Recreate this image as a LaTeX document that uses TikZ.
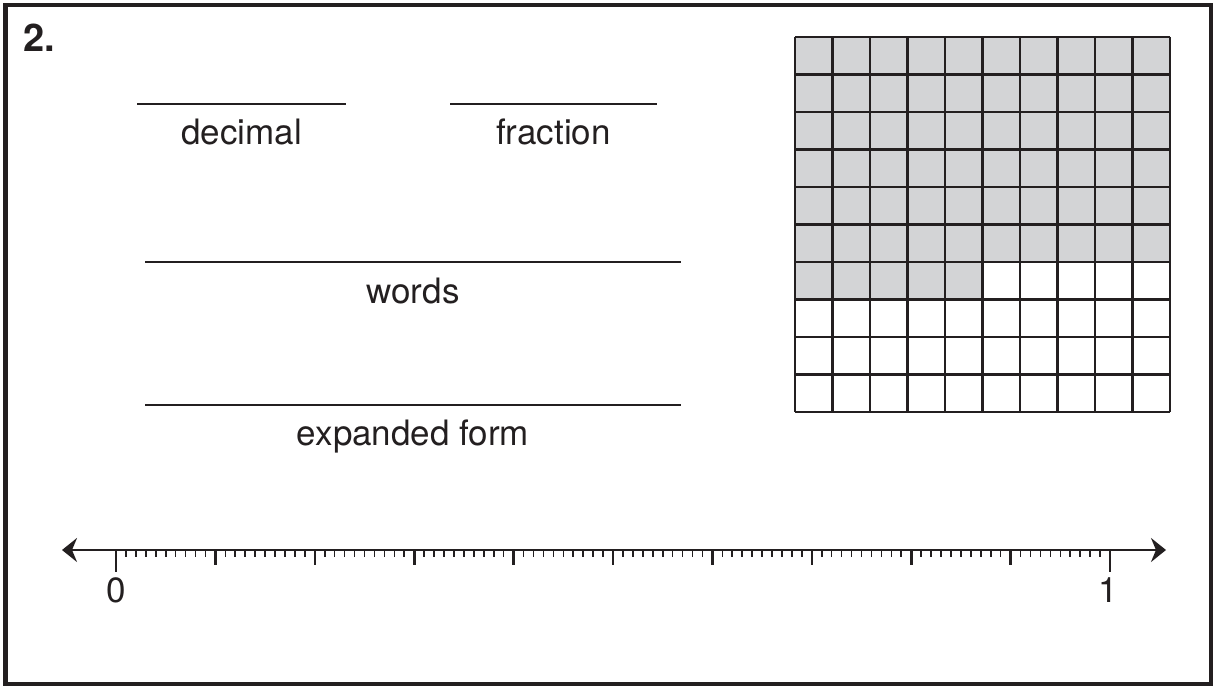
\documentclass[tikz,border=0pt]{standalone}
\usepackage{fontspec}
\setmainfont{TeX Gyre Heros}
\usetikzlibrary{arrows.meta}
\definecolor{ink}{HTML}{231F20}
\definecolor{cellgray}{HTML}{D3D4D6}
\tikzset{
  frame/.style={draw=ink, line width=4.5pt},
  blank/.style={draw=ink, line width=1.2pt},
  lbl/.style={text=ink, anchor=base, inner sep=0pt, font=\fontsize{35}{42}\selectfont},
  gridline/.style={draw=ink, line width=2.6pt},
  axis/.style={draw=ink, line width=2.6pt, {Stealth[length=15pt,width=24pt,inset=5pt]}-{Stealth[length=15pt,width=24pt,inset=5pt]}},
  tick/.style={draw=ink, line width=1.6pt},
  bigtick/.style={draw=ink, line width=2.6pt}
}
\begin{document}
\begin{tikzpicture}[x=1pt,y=-1pt]
\useasboundingbox (0,0) rectangle (1215,687);
\draw[frame] (5.5,5) rectangle (1211,684);
\node[text=ink, anchor=base west, inner sep=0pt, font=\fontsize{38}{44}\selectfont\bfseries] (num) at (23,52) {2.};
% blanks
\coordinate (d1) at (137,104); \coordinate (d2) at (346,104);
\draw[blank] (d1) -- (d2);
\node[lbl] (dec) at (241.5,145) {decimal};
\coordinate (f1) at (450,104); \coordinate (f2) at (657,104);
\draw[blank] (f1) -- (f2);
\node[lbl] (frac) at (553.5,145) {fraction};
\coordinate (w1) at (145,262); \coordinate (w2) at (681,262);
\draw[blank] (w1) -- (w2);
\node[lbl] (words) at (413,303) {words};
\coordinate (e1) at (145,405); \coordinate (e2) at (681,405);
\draw[blank] (e1) -- (e2);
\node[lbl] (exp) at (413,445) {expanded form};
% hundred grid
\fill[cellgray] (795,37) rectangle (1170,262);
\fill[cellgray] (795,262) rectangle (982.5,299.5);
\foreach \i in {0,...,10}{
  \draw[gridline] ({795+37.5*\i},37) -- ({795+37.5*\i},412);
  \draw[gridline] (795,{37+37.5*\i}) -- (1170,{37+37.5*\i});
}
% number line
\coordinate (L) at (62,550);
\coordinate (R) at (1166,550);
\draw[axis] (L) -- (R);
\foreach \i in {1,...,99}{
  \pgfmathtruncatemacro{\m}{mod(\i,10)}
  \ifnum\m=0
    \draw[bigtick] ({116+9.94*\i},550) -- ({116+9.94*\i},565);
  \else
    \draw[tick] ({116+9.94*\i},550) -- ({116+9.94*\i},557);
  \fi
}
\draw[bigtick] (116,550) -- (116,572);
\draw[bigtick] (1110,550) -- (1110,572);
\node[lbl] (zero) at (116,602) {0};
\node[lbl] (one) at (1108,602) {1};
\end{tikzpicture}
\end{document}
